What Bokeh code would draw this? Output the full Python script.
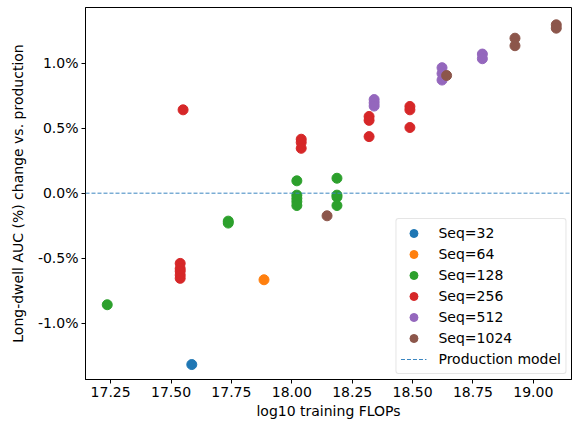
from bokeh.plotting import figure
from bokeh.models import Legend, LegendItem, FixedTicker, PrintfTickFormatter, Range1d, Span
from bokeh.embed import file_html
from bokeh.resources import INLINE

# ---- data (log10 training FLOPs, AUC change in %) ----
seq32_x = [17.586]
seq32_y = [-1.318]

seq64_x = [17.885]
seq64_y = [-0.666]

seq128_x = [17.236, 17.737, 17.737, 18.021, 18.021, 18.021, 18.021, 18.021, 18.187, 18.187, 18.187, 18.187]
seq128_y = [-0.858, -0.215, -0.230, 0.095, -0.015, -0.040, -0.065, -0.095, 0.115, -0.015, -0.030, -0.095]

seq256_x = [17.550, 17.538, 17.538, 17.538, 17.538, 17.538, 18.039, 18.039, 18.039, 18.320, 18.320, 18.320, 18.489, 18.489, 18.489]
seq256_y = [0.641, -0.540, -0.580, -0.600, -0.630, -0.655, 0.415, 0.390, 0.345, 0.590, 0.560, 0.435, 0.667, 0.641, 0.505]

seq512_x = [18.341, 18.341, 18.341, 18.622, 18.622, 18.622, 18.789, 18.789]
seq512_y = [0.720, 0.695, 0.670, 0.965, 0.920, 0.870, 1.070, 1.034]

seq1024_x = [18.146, 18.641, 18.924, 18.924, 19.095, 19.095]
seq1024_y = [-0.174, 0.905, 1.192, 1.134, 1.295, 1.269]

series_labels = ["Seq=32", "Seq=64", "Seq=128", "Seq=256", "Seq=512", "Seq=1024"]
series_colors = ["#1f77b4", "#ff7f0e", "#2ca02c", "#d62728", "#9467bd", "#8c564b"]
production_level = [0.0]

x_ticks = [17.25, 17.50, 17.75, 18.00, 18.25, 18.50, 18.75, 19.00]
y_ticks = [-1.0, -0.5, 0.0, 0.5, 1.0]

FONT = "DejaVu Sans"
PROD_COLOR = "#3b86c0"

p = figure(width=572, height=421, output_backend="svg", toolbar_location=None,
           x_range=Range1d(17.146, 19.158), y_range=Range1d(-1.433, 1.428),
           min_border_left=85, min_border_right=1, min_border_top=7, min_border_bottom=10)

p.xgrid.visible = False
p.ygrid.visible = False
p.outline_line_color = "black"
p.outline_line_width = 1
p.outline_line_alpha = 1
p.background_fill_color = "white"

series = [(seq32_x, seq32_y), (seq64_x, seq64_y), (seq128_x, seq128_y),
          (seq256_x, seq256_y), (seq512_x, seq512_y), (seq1024_x, seq1024_y)]

# production reference line
p.add_layout(Span(location=production_level[0], dimension="width", line_color=PROD_COLOR,
                  line_dash="4 2", line_width=1))

items = []
for (xs, ys), lab, col in zip(series, series_labels, series_colors):
    r = p.scatter(x=xs, y=ys, size=10, fill_color=col, line_color=col, fill_alpha=1)
    items.append(LegendItem(label=lab, renderers=[r]))

# legend-only proxy for the reference line (NaN x draws nothing in the plot)
prod = p.line(x=[float("nan")], y=production_level, line_color=PROD_COLOR,
              line_dash="4 2", line_width=1)
items.append(LegendItem(label="Production model", renderers=[prod]))

legend = Legend(items=items, location="bottom_right")
legend.label_text_font = FONT
legend.label_text_font_size = "14px"
legend.label_text_color = "black"
legend.border_line_color = "#cccccc"
legend.border_line_width = 1
legend.border_radius = 3
legend.background_fill_alpha = 0.85
legend.spacing = 1
legend.padding = 4
legend.margin = 5
legend.glyph_width = 26
legend.glyph_height = 20
legend.label_height = 20
legend.label_standoff = 12
p.add_layout(legend)

p.xaxis.ticker = FixedTicker(ticks=x_ticks)
p.yaxis.ticker = FixedTicker(ticks=y_ticks)
p.xaxis.formatter = PrintfTickFormatter(format="%.2f")
p.yaxis.formatter = PrintfTickFormatter(format="%.1f%%")

for ax in (p.xaxis[0], p.yaxis[0]):
    ax.major_label_text_font = FONT
    ax.major_label_text_font_size = "14px"
    ax.major_label_text_color = "black"
    ax.axis_label_text_font = FONT
    ax.axis_label_text_font_size = "14px"
    ax.axis_label_text_font_style = "normal"
    ax.axis_label_text_color = "black"
    ax.axis_line_color = "black"
    ax.major_tick_line_color = "black"
    ax.major_tick_out = 4
    ax.major_tick_in = 0
    ax.minor_tick_out = 0
    ax.minor_tick_in = 0
    ax.major_label_standoff = 3

p.xaxis.axis_label = "log10 training FLOPs"
p.yaxis.axis_label = "Long-dwell AUC (%) change vs. production"
p.xaxis.axis_label_standoff = 3
p.yaxis.axis_label_standoff = 9

open("out.html", "w").write(file_html(p, INLINE))
